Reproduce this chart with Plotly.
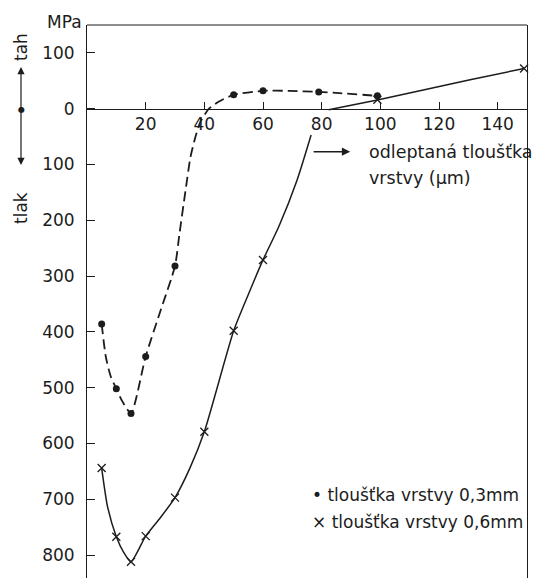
import plotly.graph_objects as go

# ---- data ----
# measured points, layer thickness 0.3 mm (dots)
thin_x = [5, 10, 15, 20, 30, 50, 60, 79, 99]
thin_y = [-386, -502, -546, -444, -282, 25, 32, 30, 23]
# measured points, layer thickness 0.6 mm (crosses)
thick_x = [5, 10, 15, 20, 30, 40, 50, 60, 99, 149]
thick_y = [-644, -767, -812, -766, -697, -579, -398, -271, 16, 72]

# hand-drawn curves
thin_curve_x = [5, 6.4, 8.1, 10, 12.1, 15, 20, 25, 30, 31.5, 33.6, 35.3, 37, 38.7, 41.6, 45, 50, 60, 69, 79, 86, 99]
thin_curve_y = [-386, -444, -480, -502, -525, -546, -444, -363, -282, -225, -146, -86, -50, -23, 0, 13, 25, 32, 32, 30, 28, 23]
thick_curve_x = [5, 7, 10, 12.5, 15, 20, 25, 30, 35, 40, 50, 55, 60, 65.4, 71.6, 76.4, None, 82.4, 99.4, 130.6, 149]
thick_curve_y = [-644, -713, -767, -795, -812, -766, -733, -697, -645, -579, -398, -333, -271, -211, -128, -47, None, -2, 16, 52, 72]

x_ticks = [20, 40, 60, 80, 100, 120, 140]
y_ticks = [100, 0, -100, -200, -300, -400, -500, -600, -700, -800]
y_ticktext = ["100", "0", "100", "200", "300", "400", "500", "600", "700", "800"]

X_RANGE = [0, 150]
Y_RANGE = [-841, 150]

INK = "#1c1c1c"
FONT = "DejaVu Sans"

fig = go.Figure()

fig.add_trace(go.Scatter(x=thin_curve_x, y=thin_curve_y, mode="lines",
                         line=dict(color=INK, width=1.8, dash="10px,5px", shape="spline", smoothing=0.6),
                         hoverinfo="skip", showlegend=False))
fig.add_trace(go.Scatter(x=thick_curve_x, y=thick_curve_y, mode="lines",
                         line=dict(color=INK, width=1.5, shape="spline", smoothing=0.6),
                         connectgaps=False, hoverinfo="skip", showlegend=False))
fig.add_trace(go.Scatter(x=thin_x, y=thin_y, mode="markers",
                         marker=dict(symbol="circle", size=7, color=INK),
                         name="tloušťka vrstvy 0,3mm", showlegend=False))
fig.add_trace(go.Scatter(x=thick_x, y=thick_y, mode="markers",
                         marker=dict(symbol="x-thin-open", size=8, color=INK, line=dict(color=INK, width=1.3)),
                         name="tloušťka vrstvy 0,6mm", showlegend=False, cliponaxis=False))

zero_pos = (0 - Y_RANGE[0]) / (Y_RANGE[1] - Y_RANGE[0])

fig.update_layout(
    width=537, height=578, autosize=False,
    margin=dict(l=87, r=10, t=25, b=0, pad=0),
    paper_bgcolor="white", plot_bgcolor="white",
    font=dict(family=FONT, size=16, color=INK),
    xaxis=dict(range=X_RANGE, anchor="free", position=zero_pos,
               showline=True, linecolor=INK, linewidth=1,
               ticks="inside", ticklen=7, tickcolor=INK, tickwidth=1,
               tickvals=x_ticks, showgrid=False, zeroline=False,
               tickfont=dict(size=17, color=INK)),
    yaxis=dict(range=Y_RANGE, showline=True, mirror=True, linecolor=INK, linewidth=1,
               ticks="inside", ticklen=8, tickcolor=INK, tickwidth=1,
               tickvals=y_ticks, ticktext=y_ticktext, showgrid=False, zeroline=False,
               ticklabelstandoff=8, tickfont=dict(size=17, color=INK)),
    showlegend=False,
)

# top border of the frame
fig.add_shape(type="line", xref="paper", yref="paper", x0=0, x1=1, y0=1, y1=1,
              line=dict(color=INK, width=1))

def py(p):
    return (578 - p) / 553

def px(p):
    return (p - 87) / 440

ann = []
ann.append(dict(text="MPa", xref="paper", yref="paper", x=px(84), y=py(22),
                xanchor="right", yanchor="middle", showarrow=False, font=dict(size=17)))
ann.append(dict(text="tah", xref="paper", yref="paper", x=px(21), y=py(47),
                textangle=-90, xanchor="center", yanchor="middle", showarrow=False, font=dict(size=17)))
ann.append(dict(text="tlak", xref="paper", yref="paper", x=px(21), y=py(208),
                textangle=-90, xanchor="center", yanchor="middle", showarrow=False, font=dict(size=17)))
ann.append(dict(text="", xref="paper", yref="paper", x=px(21), y=py(67), ax=0, ay=43,
                showarrow=True, arrowhead=2, arrowsize=1.2, arrowwidth=1.2, arrowcolor=INK))
ann.append(dict(text="", xref="paper", yref="paper", x=px(21), y=py(165), ax=0, ay=-55,
                showarrow=True, arrowhead=2, arrowsize=1.2, arrowwidth=1.2, arrowcolor=INK))
ann.append(dict(text="●", xref="paper", yref="paper", x=px(21), y=py(110),
                xanchor="center", yanchor="middle", showarrow=False, font=dict(size=8)))
ann.append(dict(text="", x=89.7, y=-77, ax=-38, ay=0, xref="x", yref="y",
                showarrow=True, arrowhead=2, arrowsize=1.1, arrowwidth=1.5, arrowcolor=INK))
ann.append(dict(text="odleptaná tloušťka", x=95.5, y=-77, xref="x", yref="y",
                xanchor="left", yanchor="middle", showarrow=False, font=dict(size=17.5)))
ann.append(dict(text="vrstvy (μm)", x=95.5, y=-124, xref="x", yref="y",
                xanchor="left", yanchor="middle", showarrow=False, font=dict(size=17.5)))
ann.append(dict(text="• tloušťka vrstvy 0,3mm", x=76.1, y=-692, xref="x", yref="y",
                xanchor="left", yanchor="middle", showarrow=False, font=dict(size=17)))
ann.append(dict(text="× tloušťka vrstvy 0,6mm", x=76.1, y=-740, xref="x", yref="y",
                xanchor="left", yanchor="middle", showarrow=False, font=dict(size=17)))
fig.update_layout(annotations=ann)

fig.write_html("out.html")
